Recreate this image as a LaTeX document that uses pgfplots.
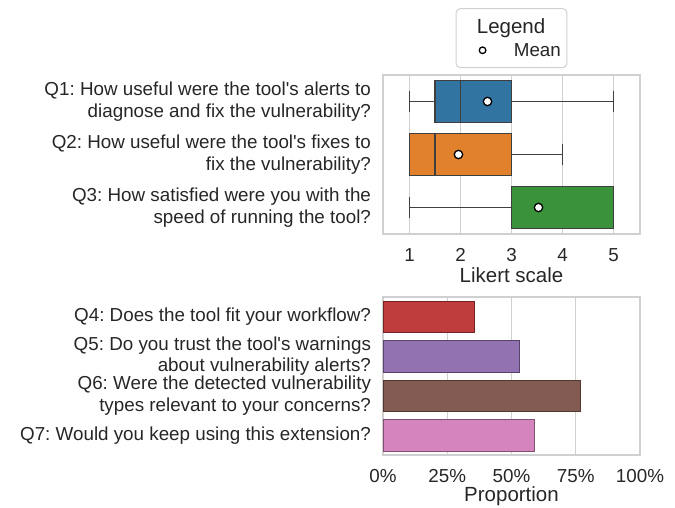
\documentclass[border=0pt]{standalone}
\usepackage{pgfplots}
\pgfplotsset{compat=1.18}
\usepgfplotslibrary{statistics}
\usepackage{fontspec}
\setmainfont{Liberation Sans}[Ligatures=TeXOff]
\frenchspacing
\definecolor{cA}{HTML}{3274A1}
\definecolor{cB}{HTML}{E1812C}
\definecolor{cC}{HTML}{3A923A}
\definecolor{cD}{HTML}{C03D3E}
\definecolor{cE}{HTML}{9372B2}
\definecolor{cF}{HTML}{845B53}
\definecolor{cG}{HTML}{D684BD}
\definecolor{gridgray}{HTML}{D0D0D0}
\definecolor{txt}{HTML}{262626}
\definecolor{linegray}{HTML}{3F3F3F}
\newcommand\tickfont{\fontsize{18.8}{21.5}\selectfont}
\newcommand\labfont{\fontsize{20.5}{24}\selectfont}
\pgfplotsset{
  common/.style={
    scale only axis,
    width=257pt,
    y dir=reverse,
    axis line style={draw=gridgray, line width=1.2pt},
    major tick length=0pt,
    xmajorgrids, ymajorgrids=false,
    grid style={draw=gridgray, line width=1.1pt},
    tick label style={font=\tickfont, text=txt},
    label style={font=\labfont, text=txt},
    yticklabel style={align=right},
    xticklabel shift=11pt,
    yticklabel shift=8.5pt,
    xlabel style={yshift=1pt},
    /pgf/number format/assume math mode=true,
  }
}
\begin{document}
\begin{tikzpicture}[x=1pt,y=1pt]
\useasboundingbox (0,0) rectangle (675,-508);
\begin{axis}[common,
  at={(383pt,-75pt)}, anchor=north west, height=159pt,
  xmin=0.48, xmax=5.52, ymin=-0.5, ymax=2.5,
  xtick={1,2,3,4,5},
  ytick={0,1,2},
  yticklabels={{Q1: How useful were the tool's alerts to\\diagnose and fix the vulnerability?},
               {Q2: How useful were the tool's fixes to\\fix the vulnerability?},
               {Q3: How satisfied were you with the\\speed of running the tool?}},
  xlabel={Likert scale},
  xlabel style={yshift=0pt},
  boxplot/box extend=0.8,
  boxplot/whisker extend=0.4,
  legend cell align=left,
  legend image code/.code={\path (-22pt,0pt) (2pt,0pt);
    \draw[mark size=3.3pt,#1] plot coordinates {(0pt,0pt)};},
  legend style={at={(0.5,1)}, anchor=south, yshift=7pt, draw=gridgray,
    line width=1pt, rounded corners=4pt, font=\tickfont, text=txt,
    inner xsep=4pt, inner ysep=8pt, row sep=4pt,
    /tikz/every odd column/.append style={column sep=26pt}},
]
\addlegendimage{empty legend}
\addlegendentry{\hspace*{-37pt}{\labfont Legend}}
\addplot[forget plot, fill=cA, draw=linegray, line width=1.2pt,
  boxplot prepared={lower whisker=1, lower quartile=1.5, median=2,
    upper quartile=3, upper whisker=5, draw position=0}] coordinates {};
\addplot[forget plot, fill=cB, draw=linegray, line width=1.2pt,
  boxplot prepared={lower whisker=1, lower quartile=1, median=1.5,
    upper quartile=3, upper whisker=4, draw position=1}] coordinates {};
\addplot[forget plot, fill=cC, draw=linegray, line width=1.2pt,
  boxplot prepared={lower whisker=1, lower quartile=3, median=3,
    upper quartile=5, upper whisker=5, draw position=2}] coordinates {};
\addplot[only marks, mark=*, mark size=4.2pt,
  mark options={fill=white, draw=black, line width=1.3pt}]
  coordinates {(2.53,0) (1.96,1) (3.53,2)};
\addlegendentry{Mean}
\end{axis}
\begin{axis}[common,
  at={(383pt,-297pt)}, anchor=north west, height=158pt,
  xmin=0, xmax=1, ymin=-0.5, ymax=3.5,
  xtick={0,0.25,0.5,0.75,1},
  xticklabels={0\%,25\%,50\%,75\%,100\%},
  ytick={0,1,2,3},
  yticklabels={{Q4: Does the tool fit your workflow?},
               {Q5: Do you trust the tool's warnings\\about vulnerability alerts?},
               {Q6: Were the detected vulnerability\\types relevant to your concerns?},
               {Q7: Would you keep using this extension?}},
  xlabel={Proportion},
  xlabel style={yshift=2pt},
]
\addplot[xbar, bar width=0.8, bar shift=0pt, fill=cD, draw=cD!60!black, line width=0.8pt] coordinates {(0.356,0)};
\addplot[xbar, bar width=0.8, bar shift=0pt, fill=cE, draw=cE!60!black, line width=0.8pt] coordinates {(0.532,1)};
\addplot[xbar, bar width=0.8, bar shift=0pt, fill=cF, draw=cF!60!black, line width=0.8pt] coordinates {(0.770,2)};
\addplot[xbar, bar width=0.8, bar shift=0pt, fill=cG, draw=cG!60!black, line width=0.8pt] coordinates {(0.590,3)};
\end{axis}
\end{tikzpicture}
\end{document}
